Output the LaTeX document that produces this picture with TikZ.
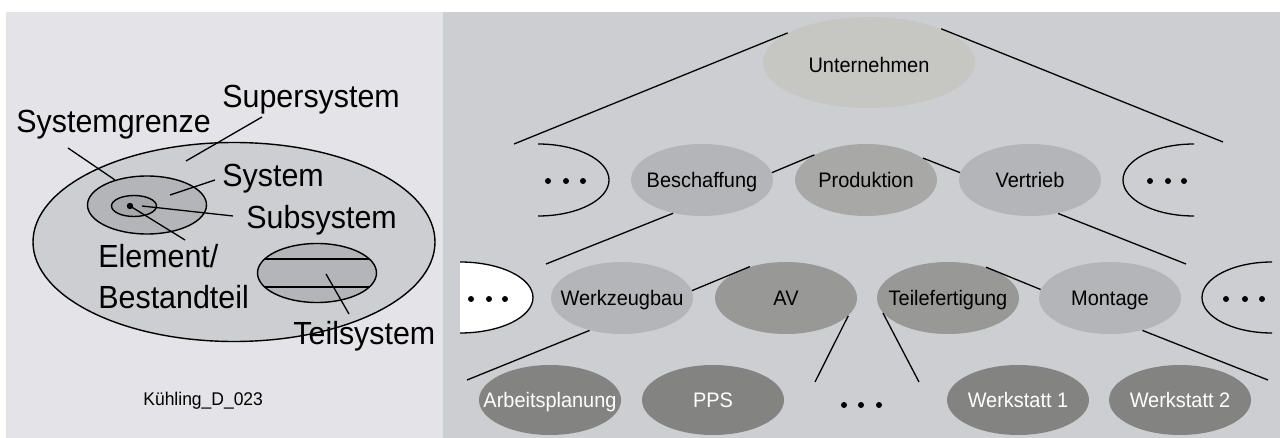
\documentclass[tikz,border=0pt]{standalone}
\usepackage{fontspec}
\setmainfont{Liberation Sans}
\usetikzlibrary{shapes.geometric}

\definecolor{leftbg}{HTML}{E4E3E8}
\definecolor{rightbg}{HTML}{CDCED2}
\definecolor{superfill}{HTML}{CDCED2}
\definecolor{sysfill}{HTML}{B4B5B8}
\definecolor{subfill}{HTML}{A6A8AB}
\definecolor{untfill}{HTML}{C6C6C3}
\definecolor{lightfill}{HTML}{B3B5B8}
\definecolor{prodfill}{HTML}{A8A8A6}
\definecolor{darkfill}{HTML}{989896}
\definecolor{deepfill}{HTML}{838381}

\newcommand{\narrow}[1]{\scalebox{0.95}[1]{#1}}

\begin{document}
\begin{tikzpicture}[x=0.5pt,y=-0.5pt,
  conn/.style={line width=0.65pt, black},
  outl/.style={ellipse, draw=black, line width=0.7pt, inner sep=0pt},
  bubble/.style={ellipse, inner sep=0pt, minimum width=71pt, minimum height=36pt},
  lbl/.style={inner sep=0pt, font=\fontsize{10.5}{12}\selectfont, text height=7.5pt, text depth=0pt},
  biglabel/.style={anchor=base west, inner sep=0pt, font=\fontsize{16}{19}\selectfont},
  dot/.style={fill=black}
]
\useasboundingbox (0,0) rectangle (1280,438);
\fill[white] (0,0) rectangle (1280,438);
\fill[leftbg] (6,12) rectangle (443,438);
\fill[rightbg] (443,12) rectangle (1280,438);

% ---------- left panel: system terms ----------
\node[outl, fill=superfill, minimum width=201pt, minimum height=99.5pt] (super) at (234,242) {};
\node[outl, fill=sysfill, minimum width=59.5pt, minimum height=29pt] (sys) at (147,205) {};
\node[outl, fill=subfill, minimum width=22.5pt, minimum height=10.5pt] (sub) at (134,206) {};
\node[ellipse, fill=sysfill, inner sep=0pt, minimum width=59.5pt, minimum height=29.5pt] (teil) at (317,273) {};
\begin{scope}
  \clip (317,273) ellipse[x radius=29.75pt, y radius=14.75pt];
  \draw[conn] (250,259) -- (390,259);
  \draw[conn] (250,287) -- (390,287);
\end{scope}
\node[outl, minimum width=59.5pt, minimum height=29.5pt] (teilrim) at (317,273) {};
\coordinate (elem) at (130,206);
\fill[dot] (elem) circle[radius=1.6pt];

\node[biglabel] (lsuper) at (222,108) {\narrow{Supersystem}};
\node[biglabel] (lgrenze) at (16,133) {\narrow{Systemgrenze}};
\node[biglabel] (lsys) at (222,187) {\narrow{System}};
\node[biglabel] (lsub) at (246,229) {\narrow{Subsystem}};
\node[biglabel] (lelem) at (98,268) {\narrow{Element/}};
\node[biglabel] (lbest) at (98,308) {\narrow{Bestandteil}};
\node[biglabel] (lteil) at (293,344) {\narrow{Teilsystem}};
\node[anchor=base west, inner sep=0pt, font=\fontsize{9.2}{11}\selectfont] (ref) at (143,405) {\narrow{Kühling\_D\_023}};

\coordinate (p1) at (262,117);  \coordinate (q1) at (186,161);
\coordinate (p2) at (68,148);
\coordinate (p3) at (215,180);  \coordinate (q3) at (170,195);
\coordinate (p4) at (233,216);  \coordinate (q4) at (142,206);
\coordinate (p5) at (185,240);
\coordinate (p6) at (349,314);  \coordinate (q6) at (326,274);
\draw[conn] (p1) -- (q1);
\draw[conn] (p2) -- (sys.142);
\draw[conn] (p3) -- (q3);
\draw[conn] (p4) -- (q4);
\draw[conn] (p5) -- (elem);
\draw[conn] (p6) -- (q6);

% ---------- right panel: company hierarchy ----------
\node[bubble, fill=untfill, minimum width=106pt, minimum height=45.5pt,
  label={[lbl, yshift=-1.5pt]center:\narrow{Unternehmen}}] (unt) at (869,62.5) {};

\node[bubble, fill=lightfill, label={[lbl]center:\narrow{Beschaffung}}] (besch) at (702,180) {};
\node[bubble, fill=prodfill, label={[lbl]center:\narrow{Produktion}}] (prod) at (866,180) {};
\node[bubble, fill=lightfill, label={[lbl]center:\narrow{Vertrieb}}] (vert) at (1030,180) {};

\node[bubble, fill=lightfill, label={[lbl]center:\narrow{Werkzeugbau}}] (wzb) at (622,298) {};
\node[bubble, fill=darkfill, label={[lbl]center:\narrow{AV}}] (av) at (786,298) {};
\node[bubble, fill=darkfill, label={[lbl]center:\narrow{Teilefertigung}}] (teilef) at (948,298) {};
\node[bubble, fill=lightfill, label={[lbl]center:\narrow{Montage}}] (mont) at (1110,298) {};

\node[bubble, fill=deepfill, minimum height=35pt, label={[lbl, text=white]center:\narrow{Arbeitsplanung}}] (arb) at (550,400) {};
\node[bubble, fill=deepfill, minimum height=35pt, label={[lbl, text=white]center:\narrow{PPS}}] (pps) at (713,400) {};
\node[bubble, fill=deepfill, minimum height=35pt, label={[lbl, text=white]center:\narrow{Werkstatt 1}}] (ws1) at (1018,400) {};
\node[bubble, fill=deepfill, minimum height=35pt, label={[lbl, text=white]center:\narrow{Werkstatt 2}}] (ws2) at (1180,400) {};

% open "more" brackets with dots
\draw[conn] (538,144) arc[start angle=90, end angle=-90, x radius=35.5pt, y radius=18pt];
\draw[conn] (1194,144) arc[start angle=90, end angle=270, x radius=35.5pt, y radius=18pt];
\fill[white] (460,262) arc[start angle=90, end angle=-90, x radius=36.5pt, y radius=17.75pt] -- cycle;
\draw[conn] (460,262) arc[start angle=90, end angle=-90, x radius=36.5pt, y radius=17.75pt];
\draw[conn] (1272,262) arc[start angle=90, end angle=270, x radius=35pt, y radius=17.75pt];

\foreach \x in {548,566,583} \fill[dot] (\x,181) circle[radius=1.5pt];
\foreach \x in {1150,1168,1184} \fill[dot] (\x,181) circle[radius=1.5pt];
\foreach \x in {471,489,505} \fill[dot] (\x,299) circle[radius=1.5pt];
\foreach \x in {1226,1245,1262} \fill[dot] (\x,299) circle[radius=1.5pt];
\foreach \x in {844,861,879} \fill[dot] (\x,405) circle[radius=1.5pt];

% free ends of the fan lines
\coordinate (u1) at (514,144);
\coordinate (u2) at (1223,142);
\coordinate (b1) at (546,264);
\coordinate (v1) at (1186,264);
\coordinate (w1) at (467,380);
\coordinate (a1) at (815,382);
\coordinate (t1) at (919,382);
\coordinate (m1) at (1268,380);

\draw[conn] (u1) -- (unt.160.5);
\draw[conn] (unt.25.6) -- (u2);
\draw[conn] (besch.6) -- (prod.154);
\draw[conn] (prod.21) -- (vert.174);
\draw[conn] (besch.229) -- (b1);
\draw[conn] (vert.310) -- (v1);
\draw[conn] (wzb.6) -- (av.139);
\draw[conn] (teilef.39) -- (mont.173);
\draw[conn] (wzb.225) -- (w1);
\draw[conn] (av.344) -- (a1);
\draw[conn] (teilef.193) -- (t1);
\draw[conn] (mont.315) -- (m1);
\end{tikzpicture}
\end{document}
